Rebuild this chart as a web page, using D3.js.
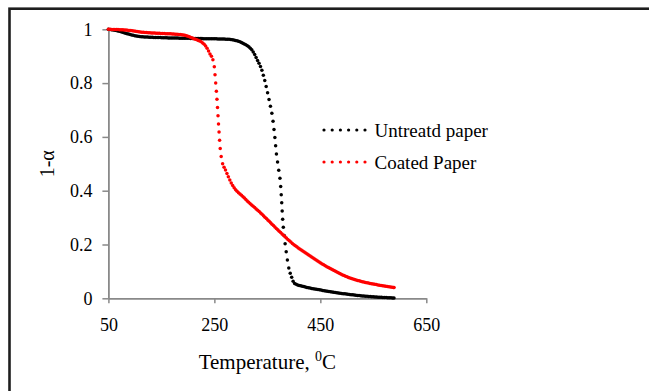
<!DOCTYPE html>
<html>
<head>
<meta charset="utf-8">
<script src="https://cdn.jsdelivr.net/npm/d3@7"></script>
<style>
  body { margin: 0; background: #fff; }
  text { font-family: "Liberation Serif", "Times New Roman", serif; fill: #000; }
</style>
</head>
<body>
<div id="chart"></div>
<script>
// values
let untreatedT = [50, 70, 85, 110, 150, 210, 275, 307, 323, 332, 338, 344, 348, 354, 360, 364, 367, 371, 375, 377, 379, 382, 386, 390, 395, 401, 420, 450, 480, 510, 540, 570, 589];
let untreatedV = [1.0, 0.993, 0.984, 0.973, 0.969, 0.966, 0.963, 0.945, 0.917, 0.882, 0.857, 0.818, 0.785, 0.731, 0.669, 0.601, 0.539, 0.483, 0.421, 0.359, 0.291, 0.229, 0.167, 0.117, 0.083, 0.056, 0.043, 0.031, 0.021, 0.013, 0.007, 0.003, 0.001];

let coatedT = [50, 84, 120, 147, 191, 210, 232, 241, 249, 252, 255, 257, 259, 261, 264, 271, 282, 307, 338, 370, 401, 420, 440, 460, 480, 500, 525, 550, 575, 589];
let coatedV = [1.0, 0.997, 0.988, 0.985, 0.979, 0.966, 0.942, 0.911, 0.874, 0.812, 0.737, 0.675, 0.613, 0.558, 0.514, 0.477, 0.428, 0.372, 0.316, 0.254, 0.198, 0.172, 0.145, 0.120, 0.099, 0.080, 0.064, 0.053, 0.0445, 0.040];

let xTicks = [50, 250, 450, 650];
let yTicks = [0, 0.2, 0.4, 0.6, 0.8, 1];
let seriesNames = ['Untreatd paper', 'Coated Paper'];
let seriesColors = ['#000000', '#ff0000'];

let width = 649, height = 391;

let svg = d3.select('#chart')
  .append('svg')
  .attr('width', width)
  .attr('height', height);

// outer frame (runs off the right and bottom edge)
svg.append('rect')
  .attr('x', 9.5)
  .attr('y', 8.7)
  .attr('width', 720)
  .attr('height', 500)
  .attr('fill', 'none')
  .attr('stroke', '#1e1e1e')
  .attr('stroke-width', 2.6);

let x = d3.scaleLinear().domain([50, 650]).range([108.4, 426.3]);
let y = d3.scaleLinear().domain([0, 1]).range([298.3, 29.3]);

let axisColor = '#898989';

// x axis
let gx = svg.append('g')
  .attr('transform', 'translate(0,' + y(0) + ')')
  .call(d3.axisBottom(x).tickValues(xTicks).tickSizeInner(5).tickSizeOuter(0).tickPadding(15).tickFormat(d3.format('d')));
gx.select('.domain').attr('stroke', axisColor).attr('stroke-width', 1.8);
gx.selectAll('.tick line').attr('stroke', axisColor).attr('stroke-width', 1.5);
gx.selectAll('.tick text')
  .attr('font-family', '"Liberation Serif", serif')
  .attr('font-size', 18)
  .attr('fill', '#000')
  .attr('dy', '0.71em');

// y axis
let gy = svg.append('g')
  .attr('transform', 'translate(' + x(50) + ',0)')
  .call(d3.axisLeft(y).tickValues(yTicks).tickSizeInner(6).tickSizeOuter(0).tickPadding(10).tickFormat(d3.format('~g')));
gy.select('.domain').attr('stroke', axisColor).attr('stroke-width', 1.8);
gy.selectAll('.tick line').attr('stroke', axisColor).attr('stroke-width', 1.5);
gy.selectAll('.tick text')
  .attr('font-family', '"Liberation Serif", serif')
  .attr('font-size', 18)
  .attr('fill', '#000');

// axis titles
let xTitle = svg.append('text')
  .attr('x', (x(50) + x(650)) / 2)
  .attr('y', 369)
  .attr('text-anchor', 'middle')
  .attr('font-size', 21);
xTitle.append('tspan').text('Temperature, ');
xTitle.append('tspan').attr('font-size', 14).attr('dy', -8).text('0');
xTitle.append('tspan').attr('dy', 8).text('C');

svg.append('text')
  .attr('transform', 'translate(53.5,' + ((y(0) + y(1)) / 2) + ') rotate(-90)')
  .attr('text-anchor', 'middle')
  .attr('font-size', 20)
  .text('1-α');

// lines: the Excel round-dot style, one dot per small step in x
// (and at least one every 8px along the steep parts)
let line = d3.line()
  .x((d) => x(d[0]))
  .y((d) => y(d[1]))
  .curve(d3.curveMonotoneX);

let series = [
  d3.zip(untreatedT, untreatedV),
  d3.zip(coatedT, coatedV)
];

let dotStep = 1.4;
let maxGap = 8;

series.forEach(function(data, i) {
  let path = svg.append('path')
    .attr('d', line(data))
    .attr('fill', 'none')
    .attr('stroke', 'none');

  let node = path.node();
  let total = node.getTotalLength();
  let dots = [];
  let nextX = -Infinity;
  let lastS = -Infinity;
  for (let s = 0; s <= total; s += 0.2) {
    let p = node.getPointAtLength(s);
    if (p.x >= nextX || s - lastS >= maxGap) {
      dots.push([p.x, p.y]);
      nextX = p.x + dotStep;
      lastS = s;
    }
  }
  let end = node.getPointAtLength(total);
  dots.push([end.x, end.y]);

  svg.append('g')
    .selectAll('circle')
    .data(dots)
    .enter().append('circle')
    .attr('cx', (d) => d[0])
    .attr('cy', (d) => d[1])
    .attr('r', 1.75)
    .attr('fill', seriesColors[i]);
});

// legend
let legendY = [130, 162];
let legendTextY = [137, 169];
seriesNames.forEach(function(name, i) {
  svg.append('line')
    .attr('x1', 324)
    .attr('x2', 365.5)
    .attr('y1', legendY[i])
    .attr('y2', legendY[i])
    .attr('stroke', seriesColors[i])
    .attr('stroke-width', 3.2)
    .attr('stroke-linecap', 'round')
    .attr('stroke-dasharray', '0 8.2');

  svg.append('text')
    .attr('x', 374.5)
    .attr('y', legendTextY[i])
    .attr('font-size', 19)
    .text(name);
});
</script>
</body>
</html>
